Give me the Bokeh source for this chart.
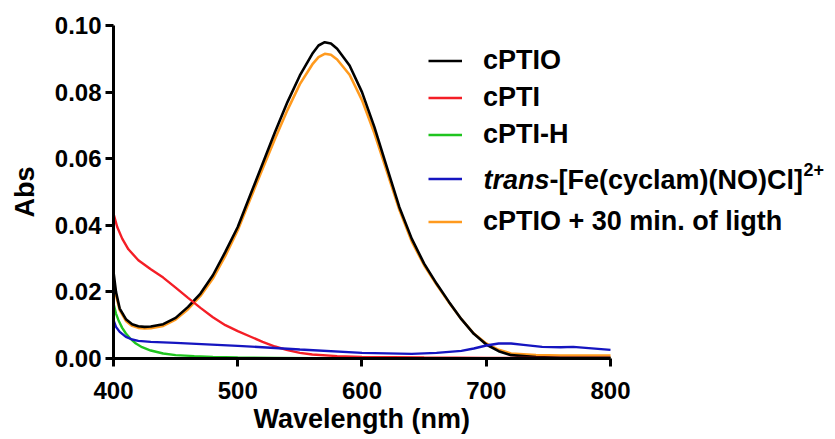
from bokeh.plotting import figure
from bokeh.models import Range1d, Legend, LegendItem, Label, FixedTicker, PrintfTickFormatter, Title
from bokeh.embed import file_html
from bokeh.resources import INLINE

# ---- data ----
wl_cptio = [400, 402, 405, 410, 415, 420, 425, 430, 440, 450, 460, 470, 480, 490, 500, 510, 520, 530, 540, 550,
            560, 565, 570, 575, 580, 590, 600, 610, 620, 630, 640, 650, 660, 670, 680, 690, 700, 710, 720, 740,
            760, 780, 800]
abs_cptio = [0.0260, 0.0200, 0.0150, 0.0118, 0.0103, 0.0097, 0.0095, 0.0096, 0.0103, 0.0122, 0.0155, 0.0195,
             0.0250, 0.0320, 0.0395, 0.0490, 0.0585, 0.0680, 0.0770, 0.0850, 0.0915, 0.0940, 0.0950, 0.0946,
             0.0930, 0.0880, 0.0800, 0.0695, 0.0575, 0.0455, 0.0360, 0.0285, 0.0225, 0.0170, 0.0118, 0.0074,
             0.0042, 0.0022, 0.0010, 0.0004, 0.0002, 0.0002, 0.0002]

wl_light = [400, 402, 405, 410, 415, 420, 425, 430, 440, 450, 460, 470, 480, 490, 500, 510, 520, 530, 540, 550,
            560, 565, 570, 575, 580, 590, 600, 610, 620, 630, 640, 650, 660, 670, 680, 690, 700, 710, 720, 740,
            760, 780, 800]
abs_light = [0.0240, 0.0190, 0.0145, 0.0113, 0.0098, 0.0092, 0.0090, 0.0091, 0.0098, 0.0117, 0.0148, 0.0188,
             0.0240, 0.0308, 0.0385, 0.0478, 0.0570, 0.0660, 0.0746, 0.0824, 0.0883, 0.0905, 0.0915, 0.0912,
             0.0898, 0.0852, 0.0776, 0.0676, 0.0562, 0.0447, 0.0352, 0.0280, 0.0222, 0.0168, 0.0118, 0.0075,
             0.0045, 0.0026, 0.0015, 0.0010, 0.0009, 0.0009, 0.0009]

wl_cpti = [400, 403, 407, 412, 420, 430, 440, 450, 460, 470, 480, 490, 500, 510, 520, 530, 540, 550, 560, 580,
           600, 650, 700, 750, 800]
abs_cpti = [0.0435, 0.0395, 0.0360, 0.0328, 0.0295, 0.0268, 0.0243, 0.0213, 0.0182, 0.0152, 0.0124, 0.0100,
            0.0082, 0.0066, 0.0050, 0.0036, 0.0025, 0.0017, 0.0012, 0.0007, 0.0005, 0.0003, 0.0002, 0.0002, 0.0002]

wl_cptih = [400, 402, 404, 407, 410, 414, 418, 423, 430, 440, 450, 465, 480, 500, 530, 560, 600, 700, 800]
abs_cptih = [0.0165, 0.0135, 0.0115, 0.0092, 0.0075, 0.0058, 0.0045, 0.0034, 0.0024, 0.0015, 0.0010, 0.0007,
             0.0005, 0.0003, 0.0002, 0.0001, 0.0000, 0.0000, 0.0000]

wl_fe = [400, 402, 405, 410, 415, 420, 430, 450, 500, 550, 600, 640, 660, 680, 690, 700, 710, 720, 730, 745,
         760, 770, 780, 790, 800]
abs_fe = [0.0115, 0.0095, 0.0080, 0.0065, 0.0057, 0.0053, 0.0050, 0.0047, 0.0038, 0.0027, 0.0017, 0.0014,
          0.0017, 0.0023, 0.0030, 0.0039, 0.0045, 0.0045, 0.0041, 0.0035, 0.0034, 0.0035, 0.0032, 0.0029, 0.0026]

x_ticks = [400, 500, 600, 700, 800]
y_ticks = [0.00, 0.02, 0.04, 0.06, 0.08, 0.10]

labels = ["cPTIO", "cPTI", "cPTI-H", "", "cPTIO + 30 min. of ligth"]
colors = ["#000000", "#f41e26", "#1fc41f", "#1515c0", "#ff9a1e"]

FONT = "Liberation Sans"

# frame spans the page width so the legend (which overhangs the 800 nm end) is not clipped;
# the x axis line itself is limited to 400-800 with `bounds`
p = figure(width=835, height=439, output_backend="svg", toolbar_location=None,
           x_range=Range1d(400, 981.1), y_range=Range1d(0, 0.10),
           min_border_left=113, min_border_right=0, min_border_top=25, min_border_bottom=81)
p.outline_line_color = None
p.grid.visible = False
p.background_fill_color = "white"
p.border_fill_color = "white"

r_light = p.line(wl_light, abs_light, line_color=colors[4], line_width=2.6)
r_cptio = p.line(wl_cptio, abs_cptio, line_color=colors[0], line_width=2.6)
r_cpti = p.line(wl_cpti, abs_cpti, line_color=colors[1], line_width=2.4)
r_cptih = p.line(wl_cptih, abs_cptih, line_color=colors[2], line_width=2.4)
r_fe = p.line(wl_fe, abs_fe, line_color=colors[3], line_width=2.4)

for ax in (p.xaxis[0], p.yaxis[0]):
    ax.axis_line_width = 3
    ax.axis_line_color = "black"
    ax.major_tick_line_width = 3
    ax.major_tick_line_color = "black"
    ax.major_tick_out = 8
    ax.major_tick_in = 0
    ax.minor_tick_line_color = None
    ax.major_label_text_font = FONT
    ax.major_label_text_font_style = "bold"
    ax.major_label_text_font_size = "24px"
    ax.major_label_text_color = "black"
    ax.axis_label_text_font = FONT
    ax.axis_label_text_font_style = "bold"
    ax.axis_label_text_font_size = "27px"
    ax.axis_label_text_color = "black"

p.xaxis.bounds = (400, 800)
p.xaxis.ticker = FixedTicker(ticks=x_ticks)
p.yaxis.ticker = FixedTicker(ticks=y_ticks)
p.yaxis.formatter = PrintfTickFormatter(format="%.2f")
p.yaxis.axis_label = "Abs"
p.xaxis.major_label_standoff = 15
p.yaxis.major_label_standoff = 4
p.yaxis.axis_label_standoff = 12

# x-axis title centred under the 400-800 axis (the frame itself is wider)
p.add_layout(Title(text="Wavelength (nm)", align="left", offset=140, standoff=0,
                   text_font=FONT, text_font_style="bold", text_font_size="27px",
                   text_color="black"), "below")

renderers = [r_cptio, r_cpti, r_cptih, r_fe, r_light]
items = [LegendItem(label=l, renderers=[r]) for l, r in zip(labels, renderers)]
leg_style = dict(padding=0, margin=0, spacing=0, glyph_width=34, label_standoff=21,
                 label_text_font=FONT, label_text_font_style="bold", label_text_font_size="27px",
                 label_text_color="black", border_line_alpha=0, background_fill_alpha=0)
# first three rows are a little closer together than the last two (the superscript row)
legend_a = Legend(items=items[:3], location=(315, 205), glyph_height=37, label_height=37, **leg_style)
legend_b = Legend(items=items[3:], location=(315, 115), glyph_height=43, label_height=43, **leg_style)
p.add_layout(legend_a, "center")
p.add_layout(legend_b, "center")

# rich label for the iron complex entry
lab_y = 115 + 43 + 21
p.add_layout(Label(x=370, y=lab_y, x_units="screen", y_units="screen", text="trans",
                   text_font=FONT, text_font_style="bold italic", text_font_size="27px",
                   text_baseline="middle", text_color="black"))
p.add_layout(Label(x=370 + 66, y=lab_y, x_units="screen", y_units="screen", text="-[Fe(cyclam)(NO)Cl]",
                   text_font=FONT, text_font_style="bold", text_font_size="27px",
                   text_baseline="middle", text_color="black"))
p.add_layout(Label(x=370 + 66 + 254, y=lab_y + 10, x_units="screen", y_units="screen", text="2+",
                   text_font=FONT, text_font_style="bold", text_font_size="18px",
                   text_baseline="middle", text_color="black"))

open("out.html", "w").write(file_html(p, INLINE))
